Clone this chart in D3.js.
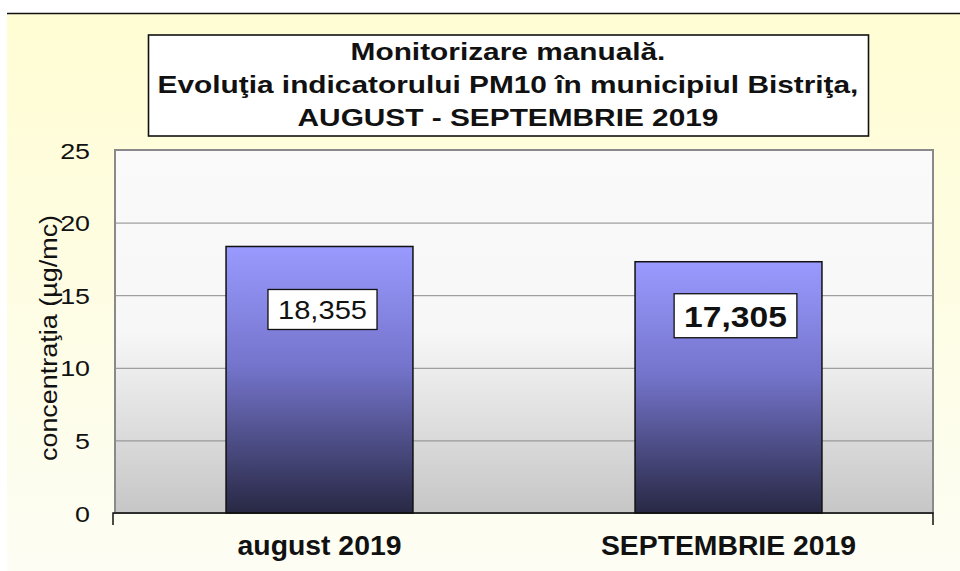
<!DOCTYPE html>
<html>
<head>
  <meta charset="utf-8">
  <title>PM10 Bistrita</title>
  <script src="https://cdn.jsdelivr.net/npm/d3@7"></script>
  <style>
    body { margin: 0; background: #fff; }
    text { font-family: Arial, "Liberation Sans", sans-serif; fill: #111; }
  </style>
</head>
<body>
  <svg width="960" height="571"></svg>
<script>

const categories = ['august 2019', 'SEPTEMBRIE 2019'];
const values = [18.355, 17.305];
const valueLabels = ['18,355', '17,305'];
const yTicks = [0, 5, 10, 15, 20, 25];
const titleLines = ['Monitorizare manuală.', 'Evoluţia indicatorului PM10 în municipiul Bistriţa,', 'AUGUST - SEPTEMBRIE 2019'];
const yTitle = 'concentraţia (µg/mc)';

// label look per bar (second one is bold in the original)
const labelStyle = [
  { bold: false, size: 26, dy: 63, padX: 10, h: 40 },
  { bold: true, size: 30, dy: 54, padX: 10, h: 44 }
];

const plot = { left: 115, top: 150, right: 933, bottom: 513 };

let svg = d3.select('svg');
let defs = svg.append('defs');

let grad = (id, stops) => {
  let g = defs.append('linearGradient').attr('id', id)
    .attr('x1', 0).attr('y1', 0).attr('x2', 0).attr('y2', 1);
  stops.forEach(s => g.append('stop').attr('offset', s[0]).attr('stop-color', s[1]));
};
grad('bgGrad', [[0, '#fffdd3'], [1, '#fdfdf4']]);
grad('plotGrad', [[0, '#fafafa'], [0.5, '#f7f7f7'], [1, '#c6c6c6']]);
grad('barGrad', [[0, '#9a9aff'], [0.45, '#7474cc'], [1, '#282844']]);

// stretched text helper: the source picture is wider than normal Arial
let stretchText = (sel, x, y, sx) => {
  sel.attr('transform', 'translate(' + x + ',' + y + ') scale(' + sx + ',1)');
};

// page background
svg.append('rect').attr('x', 7).attr('y', 14).attr('width', 953).attr('height', 557)
  .attr('fill', 'url(#bgGrad)');
svg.append('line').attr('x1', 7).attr('x2', 960).attr('y1', 13.5).attr('y2', 13.5)
  .attr('stroke', '#111').attr('stroke-width', 1.5);

// title box
svg.append('rect').attr('x', 148.5).attr('y', 35).attr('width', 720).attr('height', 101)
  .attr('fill', '#fff').attr('stroke', '#111').attr('stroke-width', 1.6);

let titleG = svg.append('g');
let tl = titleG.selectAll('text').data(titleLines).enter().append('text')
  .attr('text-anchor', 'middle')
  .style('font-weight', 'bold')
  .style('font-size', '23px')
  .text(d => d);
let natural = tl.nodes()[1].getComputedTextLength();
let tsx = 701 / natural;
tl.each(function(d, i) {
  stretchText(d3.select(this), 508, 60 + i * 33, tsx);
});

// scales
let x = d3.scaleBand().domain(categories).range([plot.left, plot.right])
  .paddingInner(0.543).paddingOuter(0.2715);
let y = d3.scaleLinear().domain([0, 25]).range([plot.bottom, plot.top]);

// plot area
svg.append('rect')
  .attr('x', plot.left).attr('y', plot.top)
  .attr('width', plot.right - plot.left).attr('height', plot.bottom - plot.top)
  .attr('fill', 'url(#plotGrad)').attr('stroke', '#8a8a8a').attr('stroke-width', 2);

// gridlines + y axis
let yAxis = svg.append('g').attr('transform', 'translate(' + plot.left + ',0)')
  .call(d3.axisLeft(y).tickValues(yTicks).tickSize(10).tickFormat(d3.format('d')));
yAxis.select('.domain').remove();
yAxis.selectAll('.tick line').attr('stroke', '#8a8a8a').attr('x2', plot.right - plot.left);
yAxis.selectAll('.tick text').each(function(d) {
  let t = d3.select(this).attr('x', 0).attr('dy', null)
    .attr('text-anchor', 'end').attr('fill', '#111')
    .style('font-size', '22px').style('font-family', 'Arial, "Liberation Sans", sans-serif');
  stretchText(t, -25, 8, 1.22);
});

// bars
svg.selectAll('.bar').data(values).enter().append('rect')
  .attr('class', 'bar')
  .attr('x', (d, i) => x(categories[i]))
  .attr('y', d => y(d))
  .attr('width', x.bandwidth())
  .attr('height', d => y(0) - y(d))
  .attr('fill', 'url(#barGrad)')
  .attr('stroke', '#111').attr('stroke-width', 1.5);

// x axis
let xAxis = svg.append('g').attr('transform', 'translate(0,' + plot.bottom + ')')
  .call(d3.axisBottom(x).tickSizeInner(0).tickSizeOuter(12).tickPadding(0));
xAxis.select('.domain').attr('stroke', '#111').attr('stroke-width', 1.5)
  .attr('d', 'M' + (plot.left - 2) + ',12V0H' + plot.right + 'V12');
xAxis.selectAll('.tick text').each(function(d) {
  let t = d3.select(this).attr('y', null).attr('dy', null).attr('fill', '#111')
    .style('font-size', '27px').style('font-weight', 'bold')
    .style('font-family', 'Arial, "Liberation Sans", sans-serif');
  stretchText(t, 0, 42, 1.05);
});

// value labels
values.forEach((v, i) => {
  let st = labelStyle[i];
  let cx = x(categories[i]) + x.bandwidth() / 2 + (i === 0 ? 3 : 7);
  let cy = y(v) + st.dy;
  let g = svg.append('g');
  let t = g.append('text').attr('text-anchor', 'middle')
    .style('font-size', st.size + 'px')
    .style('font-weight', st.bold ? 'bold' : 'normal')
    .text(valueLabels[i]);
  let sx = 1.12;
  stretchText(t, cx, cy + st.size * 0.36, sx);
  let w = t.node().getComputedTextLength() * sx + st.padX * 2;
  g.insert('rect', 'text')
    .attr('x', cx - w / 2).attr('y', cy - st.h / 2)
    .attr('width', w).attr('height', st.h)
    .attr('fill', '#fff').attr('stroke', '#111').attr('stroke-width', 1.3);
});

// y axis title
svg.append('text')
  .attr('text-anchor', 'middle')
  .attr('transform', 'translate(57,338) rotate(-90) scale(1.1,1)')
  .style('font-size', '24.5px')
  .text(yTitle);

</script>
</body>
</html>
